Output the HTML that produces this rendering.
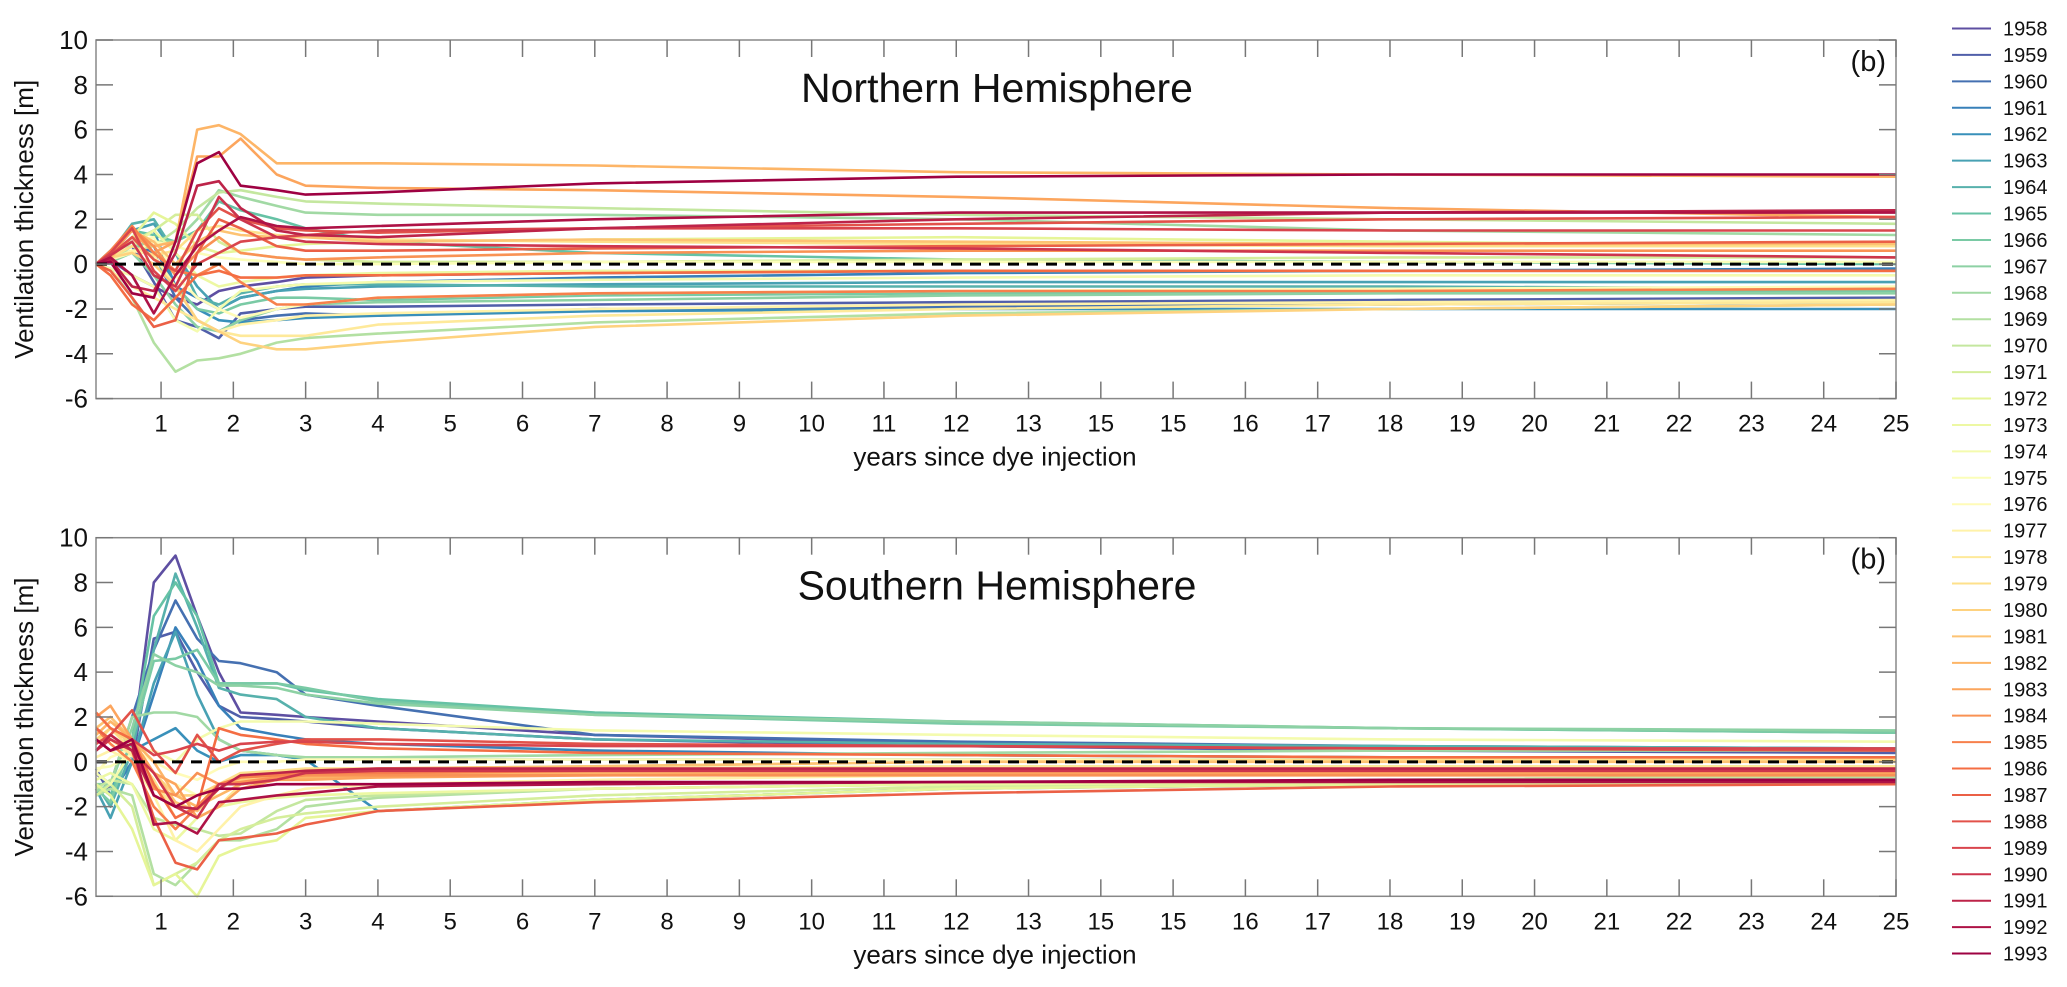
<!DOCTYPE html>
<html><head><meta charset="utf-8"><style>
html,body{margin:0;padding:0;background:#fff;}
svg{display:block;font-family:"Liberation Sans",sans-serif;}
</style></head><body>
<svg id="chart" width="2067" height="987" viewBox="0 0 2067 987" xmlns="http://www.w3.org/2000/svg"></svg>
<script>
const xs = [0.1,0.3,0.6,0.9,1.2,1.5,1.8,2.1,2.6,3,4,7,12,18,25];
const years = [];
for (let y = 1958; y <= 1993; y++) years.push(y);
const xTickVals = [1,2,3,4,5,6,7,8,9,10,11,12,13,14,15,16,17,18,19,20,21,22,23,24,25];
const xTickLabels = ["1","2","3","4","5","6","7","8","9","10","11","12","13","15","15","16","17","18","19","20","21","22","23","24","25"];
const yTickVals = [-6,-4,-2,0,2,4,6,8,10];
const nhSeries = [
[0,0.2,-0.5,-1,-1.5,-1.8,-1.2,-1.0,-0.8,-0.6,-0.5,-0.4,-0.3,-0.3,-0.3],
[0,0.3,0.8,-0.8,-2.5,-2.8,-3.3,-2.2,-2.0,-1.9,-1.9,-1.8,-1.7,-1.6,-1.5],
[0,0.5,1.0,0.5,-1.5,-2.5,-3,-2.5,-2.3,-2.2,-2.3,-2.0,-1.9,-1.8,-1.7],
[0,0.4,1.2,0.8,-1,-1.5,-2,-1.5,-1.2,-1.0,-0.8,-0.6,-0.4,-0.3,-0.2],
[0,0.3,1.0,1.5,-1.0,-2,-2.5,-2.6,-2.5,-2.4,-2.3,-2.1,-2.0,-2.0,-2.0],
[0,0.6,1.5,1.8,0.5,-1.0,-2.0,-1.5,-1.2,-1.1,-1.0,-0.9,-0.8,-0.8,-0.8],
[0,0.5,1.8,2.0,0.5,-1.5,-1.8,-1.3,-1.0,-0.9,-0.9,-1.0,-1.0,-1.0,-1.1],
[0,0.4,1.5,1.3,1.0,1.5,2.8,2.4,2.0,1.6,1.0,0.5,0.2,0.1,0.0],
[0,0.2,1.0,0.3,-1.0,-2.0,-2.2,-1.8,-1.5,-1.5,-1.6,-1.4,-1.3,-1.2,-1.2],
[0,0.1,0.5,-0.5,-1.8,-2.8,-3.0,-2.5,-2.0,-1.8,-1.7,-1.6,-1.4,-1.3,-1.3],
[0,0.2,0.8,1.0,1.0,2.0,3.3,3.0,2.6,2.3,2.2,2.2,2.0,1.5,1.3],
[0,-0.2,-1.5,-3.5,-4.8,-4.3,-4.2,-4.0,-3.5,-3.3,-3.1,-2.6,-2.2,-2.0,-1.8],
[0,0.3,0.6,0.8,1.5,2.5,3.2,3.3,3.0,2.8,2.7,2.5,2.2,2.0,1.8],
[0,0.5,1.0,1.5,2.2,2.2,1.0,0.5,0.3,0.2,0.1,0.1,0.2,0.3,0.3],
[0,0.4,1.2,2.3,1.8,0.8,0.5,0.6,0.8,0.9,1.0,1.1,1.2,1.0,0.8],
[0,0.3,0.8,1.5,0.5,-0.5,-1.0,-0.8,-0.6,-0.5,-0.4,-0.3,-0.3,-0.3,-0.3],
[0,-0.2,-0.5,-1.0,-2.5,-3.0,-2.0,-1.2,-1.0,-0.9,-0.8,-0.7,-0.6,-0.5,-0.5],
[0,0.2,0.5,1.0,0.8,0.5,0.3,0.2,0.1,0.0,0.0,0.1,0.1,0.1,0.1],
[0,0.3,1.0,1.2,-0.5,-1.5,-2.0,-2.4,-2.0,-1.8,-1.5,-1.3,-1.2,-1.1,-1.0],
[0,0.2,0.6,0.4,-1.0,-2.5,-3.0,-2.7,-2.5,-2.3,-2.2,-2.0,-1.8,-1.7,-1.6],
[0,-0.3,-1.0,-1.5,-2.0,-2.5,-3.0,-3.2,-3.2,-3.2,-2.7,-2.3,-2.0,-1.8,-1.7],
[0,0.3,0.8,0.4,0.6,1.5,1.7,1.5,1.3,1.2,1.1,1.0,0.9,0.8,0.8],
[0,0.3,0.5,0.0,-1.0,-2.5,-3.0,-3.5,-3.8,-3.8,-3.5,-2.8,-2.3,-2.0,-1.8],
[0,0.5,1.5,1.0,0.0,1.0,1.5,1.3,1.2,1.2,1.0,1.1,1.0,0.9,0.9],
[0,0.3,1.2,0.8,1.0,6.0,6.2,5.8,4.5,4.5,4.5,4.4,4.1,4.0,3.9],
[0,0.4,1.5,0.5,1.0,4.8,4.8,5.6,4.0,3.5,3.4,3.3,3.0,2.5,2.1],
[0,0.5,1.6,0.8,-0.5,0.5,1.2,0.5,0.3,0.2,0.3,0.5,0.6,0.6,0.6],
[0,0.6,1.7,0.5,-0.3,-0.5,0.0,-0.8,-1.8,-1.8,-1.5,-1.3,-1.2,-1.2,-1.1],
[0,-0.5,-1.8,-2.5,-1.5,-0.5,-0.3,-0.6,-0.6,-0.5,-0.5,-0.4,-0.3,-0.3,-0.3],
[0,-0.3,-1.5,-2.8,-2.5,0.5,2.0,1.6,0.8,0.6,0.6,0.7,0.8,0.9,1.0],
[0,0.4,1.2,0.2,-0.3,1.5,2.5,2.0,1.6,1.5,1.4,1.6,1.8,2.0,2.1],
[0,0.5,1.6,-0.3,-1.2,0.0,0.5,1.0,1.2,1.3,1.5,1.6,1.6,1.5,1.5],
[0,0.4,1.0,-0.5,-1.0,1.0,3.0,2.0,1.2,1.0,0.9,0.8,0.7,0.5,0.3],
[0,0.2,-1.0,-1.2,0.5,3.5,3.7,2.5,1.5,1.3,1.2,1.6,2.0,2.3,2.4],
[0,0.3,-0.5,-2.2,-0.5,0.8,1.5,2.1,1.7,1.6,1.7,2.0,2.3,2.3,2.3],
[0,0.1,-1.3,-1.5,1.0,4.5,5.0,3.5,3.3,3.1,3.2,3.6,3.9,4.0,4.0]
];
const shSeries = [
[-0.5,-1.2,0.5,8.0,9.2,6.5,4.0,2.2,2.1,2.0,1.8,1.2,0.8,0.6,0.5],
[-0.3,-1.5,0.0,5.5,5.8,4.0,2.5,2.0,1.9,1.8,1.5,1.0,0.7,0.5,0.4],
[-0.5,-1.0,2.0,5.0,7.2,5.5,4.5,4.4,4.0,3.0,2.5,1.2,0.9,0.7,0.6],
[-1.0,-1.5,0.0,3.0,6.0,4.5,2.5,1.5,1.2,1.0,0.8,0.5,0.3,0.2,0.2],
[-1.5,-1.2,0.5,1.0,1.5,0.5,0.0,0.3,0.3,0.1,-2.2,-1.7,-1.2,-1.0,-0.8],
[-1.2,-2.5,0.0,3.5,5.8,3.0,1.0,0.5,0.3,0.1,0.1,0.1,0.1,0.1,0.1],
[-1.0,-2.0,0.5,5.0,8.4,6.0,3.3,3.0,2.8,2.0,1.5,1.0,0.8,0.7,0.6],
[-1.0,-1.5,1.0,6.5,8.0,6.5,3.5,3.5,3.5,3.2,2.8,2.2,1.8,1.5,1.3],
[-1.2,-1.8,1.0,4.5,4.6,5.0,3.5,3.5,3.5,3.3,2.7,2.1,1.7,1.5,1.3],
[-1.0,-1.0,1.5,4.8,4.3,4.0,3.4,3.4,3.3,3.0,2.6,2.1,1.8,1.5,1.4],
[-1.3,-1.0,2.0,2.2,2.2,2.0,1.0,0.5,0.3,0.2,0.2,0.3,0.4,0.5,0.5],
[-1.5,-1.2,-1.5,-5.0,-5.5,-4.5,-3.5,-3.5,-3.0,-2.0,-1.6,-1.2,-1.0,-0.8,-0.7],
[-1.2,-0.8,-1.0,-2.5,-2.8,-3.0,-3.3,-3.2,-2.2,-1.7,-1.5,-1.2,-1.0,-0.8,-0.6],
[-1.5,-1.0,-2.0,-5.5,-5.0,-4.5,-3.5,-3.0,-2.5,-2.3,-2.0,-1.5,-1.1,-0.9,-0.8],
[-1.0,-1.5,-3.0,-5.5,-5.0,-6.0,-4.2,-3.8,-3.5,-2.5,-2.2,-1.7,-1.2,-1.0,-0.9],
[-0.8,-0.5,-1.0,-3.0,-3.5,-2.5,-2.0,-1.8,-1.6,-1.5,-1.4,-1.2,-1.0,-0.9,-0.8],
[-0.5,-1.0,0.5,0.5,0.0,1.0,1.5,1.8,1.8,1.8,1.7,1.4,1.2,1.0,0.9],
[-0.3,-0.2,0.3,-0.5,-1.0,-1.5,-1.5,-1.0,-0.8,-0.8,-0.6,-0.5,-0.4,-0.3,-0.3],
[-0.5,0.2,0.6,0.0,-0.5,-0.8,-0.3,0.0,0.0,0.1,0.1,0.1,0.1,0.1,0.1],
[0.2,0.5,0.0,-1.5,-3.5,-4.0,-3.0,-2.0,-1.5,-1.2,-1.0,-0.8,-0.6,-0.5,-0.4],
[0.5,1.0,0.3,-1.0,-2.0,-2.5,-2.0,-1.0,-0.8,-0.6,-0.5,-0.3,-0.2,-0.2,-0.2],
[0.8,1.5,0.5,-0.8,-2.5,-2.0,-1.0,-0.5,-0.4,-0.3,-0.3,-0.2,0.0,0.1,0.1],
[1.0,1.5,0.8,-0.5,-1.5,-1.5,-1.0,-0.8,-0.7,-0.7,-0.7,-0.5,-0.4,-0.3,-0.3],
[1.5,2.0,1.0,-0.5,-1.8,-2.2,-1.2,-0.7,-0.5,-0.4,-0.3,-0.2,0.0,0.0,0.0],
[1.2,1.8,1.0,0.0,-1.5,-2.0,-1.5,-1.0,-0.8,-0.7,-0.6,-0.5,-0.4,-0.4,-0.4],
[2.0,2.5,1.0,-0.5,-1.0,-2.5,-2.0,-1.2,-0.8,-0.8,-0.7,-0.6,-0.5,-0.5,-0.5],
[1.5,1.0,0.5,-1.2,-1.5,-0.5,-1.0,-0.9,-0.7,-0.6,-0.6,-0.6,-0.6,-0.6,-0.6],
[1.5,0.8,0.0,-2.0,-3.0,-2.0,-1.0,-0.7,-0.6,-0.5,-0.5,-0.4,-0.4,-0.4,-0.4],
[2.2,1.5,1.0,-1.0,-2.5,-2.0,1.5,1.2,1.0,0.8,0.6,0.4,0.3,0.2,0.2],
[1.5,1.0,0.5,-2.5,-4.5,-4.8,-3.5,-3.4,-3.2,-2.8,-2.2,-1.8,-1.4,-1.1,-1.0],
[0.8,1.2,2.3,0.5,-0.5,1.2,0.0,0.5,0.8,1.0,1.0,0.8,0.7,0.6,0.5],
[1.0,0.5,1.0,0.3,0.5,0.8,0.5,0.8,0.9,0.9,0.8,0.7,0.7,0.6,0.6],
[0.5,1.0,0.5,-0.5,-2.0,-2.5,-1.0,-1.0,-0.8,-0.5,-0.4,-0.4,-0.4,-0.4,-0.4],
[0.5,1.2,0.5,-1.5,-2.0,-2.1,-1.2,-0.6,-0.5,-0.4,-0.3,-0.3,-0.3,-0.3,-0.3],
[1.0,0.5,0.8,-2.8,-2.7,-3.2,-1.8,-1.7,-1.5,-1.4,-1.1,-1.0,-0.9,-0.9,-0.9],
[1.0,0.5,1.0,-1.5,-2.0,-1.5,-1.2,-1.2,-1.0,-1.0,-1.0,-0.9,-0.9,-0.8,-0.8]
];

const NS = "http://www.w3.org/2000/svg";
const svg = document.getElementById('chart');
function mk(tag, attrs, parent) {
  const e = document.createElementNS(NS, tag);
  for (const k in attrs) e.setAttribute(k, attrs[k]);
  (parent || svg).appendChild(e);
  return e;
}
// Spectral colormap (reversed: purple -> dark red)
const stops = ["#5e4fa2","#3288bd","#66c2a5","#abdda4","#e6f598","#ffffbf","#fee08b","#fdae61","#f46d43","#d53e4f","#9e0142"];
function hex(h){return [parseInt(h.substr(1,2),16),parseInt(h.substr(3,2),16),parseInt(h.substr(5,2),16)];}
function cmap(t) {
  const p = t * (stops.length - 1), i = Math.min(Math.floor(p), stops.length - 2), f = p - i;
  const a = hex(stops[i]), b = hex(stops[i+1]);
  const c = a.map((v,k)=>Math.round(v + (b[k]-v)*f));
  // darken very light yellows slightly
  return "rgb(" + c.join(",") + ")";
}
const colors = years.map((_, i) => cmap(i / (years.length - 1)));

const X0 = 96, X1 = 1896, XMIN = 0.1, XMAX = 25;
const YMIN = -6, YMAX = 10;
function xScale(v) { return X0 + (v - XMIN) / (XMAX - XMIN) * (X1 - X0); }

function panel(top, series, title, key) {
  const bottom = top + 358.6;
  const yScale = v => bottom - (v - YMIN) / (YMAX - YMIN) * (bottom - top);
  const g = mk('g', {});
  
  
  const lines = mk('g', {}, g);
  
  
  series.forEach((vals, i) => {
    const d = vals.map((v, j) => (j ? 'L' : 'M') + xScale(xs[j]).toFixed(1) + ' ' + yScale(v).toFixed(1)).join(' ');
    const p = mk('path', {d: d, fill: 'none', stroke: colors[i], 'stroke-width': 2.6, 'stroke-linejoin': 'round'}, lines);
    
    
  });
  const z = mk('line', {x1: X0, x2: X1, y1: yScale(0), y2: yScale(0), stroke: '#000', 'stroke-width': 3, 'stroke-dasharray': '11 8'}, g);
  
  
  const box = mk('rect', {x: X0, y: top, width: X1 - X0, height: bottom - top, fill: 'none', stroke: '#888', 'stroke-width': 1.5}, g);
  
  
  xTickVals.forEach((v, i) => {
    const x = xScale(v);
    mk('line', {x1: x, x2: x, y1: bottom, y2: bottom - 17, stroke: '#777', 'stroke-width': 1.5}, g);
    mk('line', {x1: x, x2: x, y1: top, y2: top + 17, stroke: '#777', 'stroke-width': 1.5}, g);
    const t = mk('text', {x: x, y: bottom + 33, 'font-size': 24, 'text-anchor': 'middle', fill: '#111'}, g);
    t.textContent = xTickLabels[i];
    
    
  });
  yTickVals.forEach(v => {
    const y = yScale(v);
    mk('line', {x1: X0, x2: X0 + 17, y1: y, y2: y, stroke: '#777', 'stroke-width': 1.5}, g);
    mk('line', {x1: X1, x2: X1 - 17, y1: y, y2: y, stroke: '#777', 'stroke-width': 1.5}, g);
    const t = mk('text', {x: 88, y: y + 9, 'font-size': 26, 'text-anchor': 'end', fill: '#111'}, g);
    t.textContent = String(v);
    
    
  });
  const xl = mk('text', {x: 995, y: bottom + 67, 'font-size': 26, 'text-anchor': 'middle', fill: '#111'}, g);
  xl.textContent = 'years since dye injection';
  
  
  const yl = mk('text', {x: 0, y: 0, 'font-size': 26, 'text-anchor': 'middle', fill: '#111', transform: 'translate(33,' + ((top + bottom) / 2) + ') rotate(-90)'}, g);
  yl.textContent = 'Ventilation thickness [m]';
  
  
  const tt = mk('text', {x: 997, y: top + 62, 'font-size': 41, 'text-anchor': 'middle', fill: '#111'}, g);
  tt.textContent = title;
  
  
  const pb = mk('text', {x: 1886, y: top + 31, 'font-size': 29, 'text-anchor': 'end', fill: '#111'}, g);
  pb.textContent = '(b)';
  
  
}
panel(40, nhSeries, 'Northern Hemisphere', 'north');
panel(537.7, shSeries, 'Southern Hemisphere', 'south');

const leg = mk('g', {});


years.forEach((yr, i) => {
  const y = 26.5 + 26.43 * i;
  const e = mk('g', {}, leg);
  
  
  mk('line', {x1: 1952, x2: 1991, y1: y + 2, y2: y + 2, stroke: colors[i], 'stroke-width': 2}, e);
  const t = mk('text', {x: 2003, y: y + 9, 'font-size': 20, fill: '#111'}, e);
  t.textContent = String(yr);
});
</script>
</body></html>
